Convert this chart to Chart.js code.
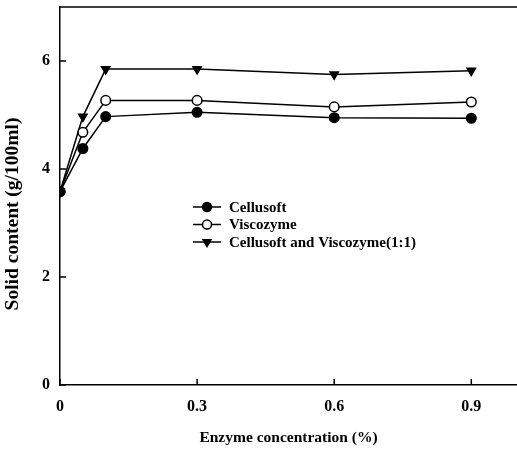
<!DOCTYPE html>
<html>
<head>
<meta charset="utf-8">
<script src="https://cdn.jsdelivr.net/npm/chart.js@4"></script>
<style>
  html, body { margin: 0; padding: 0; background: #fff; }
  #wrap { width: 517px; height: 458px; }
</style>
</head>
<body>
<div id="wrap"><canvas id="chart"></canvas></div>
<script>
const concentrations = [0, 0.05, 0.1, 0.3, 0.6, 0.9];
const cellusoft = [3.58, 4.38, 4.97, 5.05, 4.95, 4.94];
const viscozyme = [3.58, 4.68, 5.27, 5.27, 5.15, 5.24];
const mixed = [3.58, 4.97, 5.85, 5.85, 5.75, 5.82];
const seriesNames = ['Cellusoft', 'Viscozyme', 'Cellusoft and Viscozyme(1:1)'];
const xTicks = [0, 0.3, 0.6, 0.9];
const yTicks = [0, 2, 4, 6];
const yTitle = 'Solid content (g/100ml)';

const toPoints = (vals) => vals.map((v, i) => ({ x: concentrations[i], y: v }));

// inward tick marks, top border, y title and the legend inside the plot
const extras = {
    id: 'extras',
    afterDraw(chart) {
        let ctx = chart.ctx;
        let a = chart.chartArea;
        let xs = chart.scales.x, ys = chart.scales.y;
        ctx.save();
        ctx.strokeStyle = '#000';
        ctx.lineWidth = 1.5;
        ctx.beginPath();
        ctx.moveTo(a.left, a.top);
        ctx.lineTo(a.right, a.top);
        xTicks.forEach((t) => {
            let px = xs.getPixelForValue(t);
            ctx.moveTo(px, a.bottom);
            ctx.lineTo(px, a.bottom - 6);
        });
        yTicks.forEach((t) => {
            let py = ys.getPixelForValue(t);
            ctx.moveTo(a.left, py);
            ctx.lineTo(a.left + 6, py);
        });
        ctx.stroke();

        // y axis title
        ctx.save();
        ctx.translate(13, 214);
        ctx.rotate(-Math.PI / 2);
        ctx.font = 'bold 19.5px "Liberation Serif"';
        ctx.textAlign = 'center';
        ctx.textBaseline = 'middle';
        ctx.fillStyle = '#000';
        ctx.fillText(yTitle, 0, 0);
        ctx.restore();

        // legend
        let lx = 193, ly = 207, gap = 17.5;
        ctx.font = 'bold 15px "Liberation Serif"';
        ctx.textBaseline = 'middle';
        chart.data.datasets.forEach((ds, i) => {
            let y = ly + i * gap;
            ctx.strokeStyle = '#000';
            ctx.lineWidth = 1.5;
            ctx.beginPath();
            ctx.moveTo(lx, y);
            ctx.lineTo(lx + 28, y);
            ctx.stroke();
            ctx.fillStyle = ds.pointBackgroundColor;
            Chart.helpers.drawPoint(ctx, {
                pointStyle: ds.pointStyle,
                radius: 4.5,
                rotation: ds.pointRotation || 0,
                borderWidth: 1.5
            }, lx + 14, y);
            ctx.fillStyle = '#000';
            ctx.fillText(ds.label, lx + 36, y + 1);
        });
        ctx.restore();
    }
};

const common = {
    showLine: true,
    borderColor: '#000',
    borderWidth: 1.5,
    pointBorderColor: '#000',
    pointBorderWidth: 1.5,
    pointRadius: 4.8,
    tension: 0
};

new Chart(document.getElementById('chart'), {
    type: 'scatter',
    data: {
        datasets: [
            Object.assign({}, common, { label: seriesNames[0], data: toPoints(cellusoft), pointStyle: 'circle', pointBackgroundColor: '#000' }),
            Object.assign({}, common, { label: seriesNames[1], data: toPoints(viscozyme), pointStyle: 'circle', pointBackgroundColor: '#fff' }),
            Object.assign({}, common, { label: seriesNames[2], data: toPoints(mixed), pointStyle: 'triangle', pointRotation: 180, pointBackgroundColor: '#000' })
        ]
    },
    options: {
        responsive: true,
        maintainAspectRatio: false,
        animation: false,
        layout: { autoPadding: false, padding: { top: 7, right: 0, left: 0, bottom: 0 } },
        plugins: { legend: { display: false }, tooltip: { enabled: false } },
        scales: {
            x: {
                type: 'linear',
                min: 0,
                max: 1.0,
                afterBuildTicks: (s) => { s.ticks = xTicks.map((v) => ({ value: v })); },
                afterFit: (s) => { s.height = 73; s.paddingLeft = 0; s.paddingRight = 0; },
                grid: { display: false, drawTicks: false },
                border: { color: '#000', width: 1.5 },
                ticks: {
                    color: '#000',
                    padding: 12,
                    font: { family: 'Liberation Serif', size: 16, weight: 'bold' },
                    callback: (v) => String(v)
                },
                title: {
                    display: true,
                    text: 'Enzyme concentration (%)',
                    color: '#000',
                    padding: { top: 3, bottom: 11 },
                    font: { family: 'Liberation Serif', size: 15.5, weight: 'bold' }
                }
            },
            y: {
                min: 0,
                max: 7,
                afterBuildTicks: (s) => { s.ticks = yTicks.map((v) => ({ value: v })); },
                afterFit: (s) => { s.width = 60; s.paddingTop = 0; s.paddingBottom = 0; },
                grid: { display: false, drawTicks: false },
                border: { color: '#000', width: 1.5 },
                ticks: {
                    color: '#000',
                    padding: 10,
                    font: { family: 'Liberation Serif', size: 16, weight: 'bold' }
                },
                title: { display: false }
            }
        }
    },
    plugins: [extras]
});
</script>
</body>
</html>
